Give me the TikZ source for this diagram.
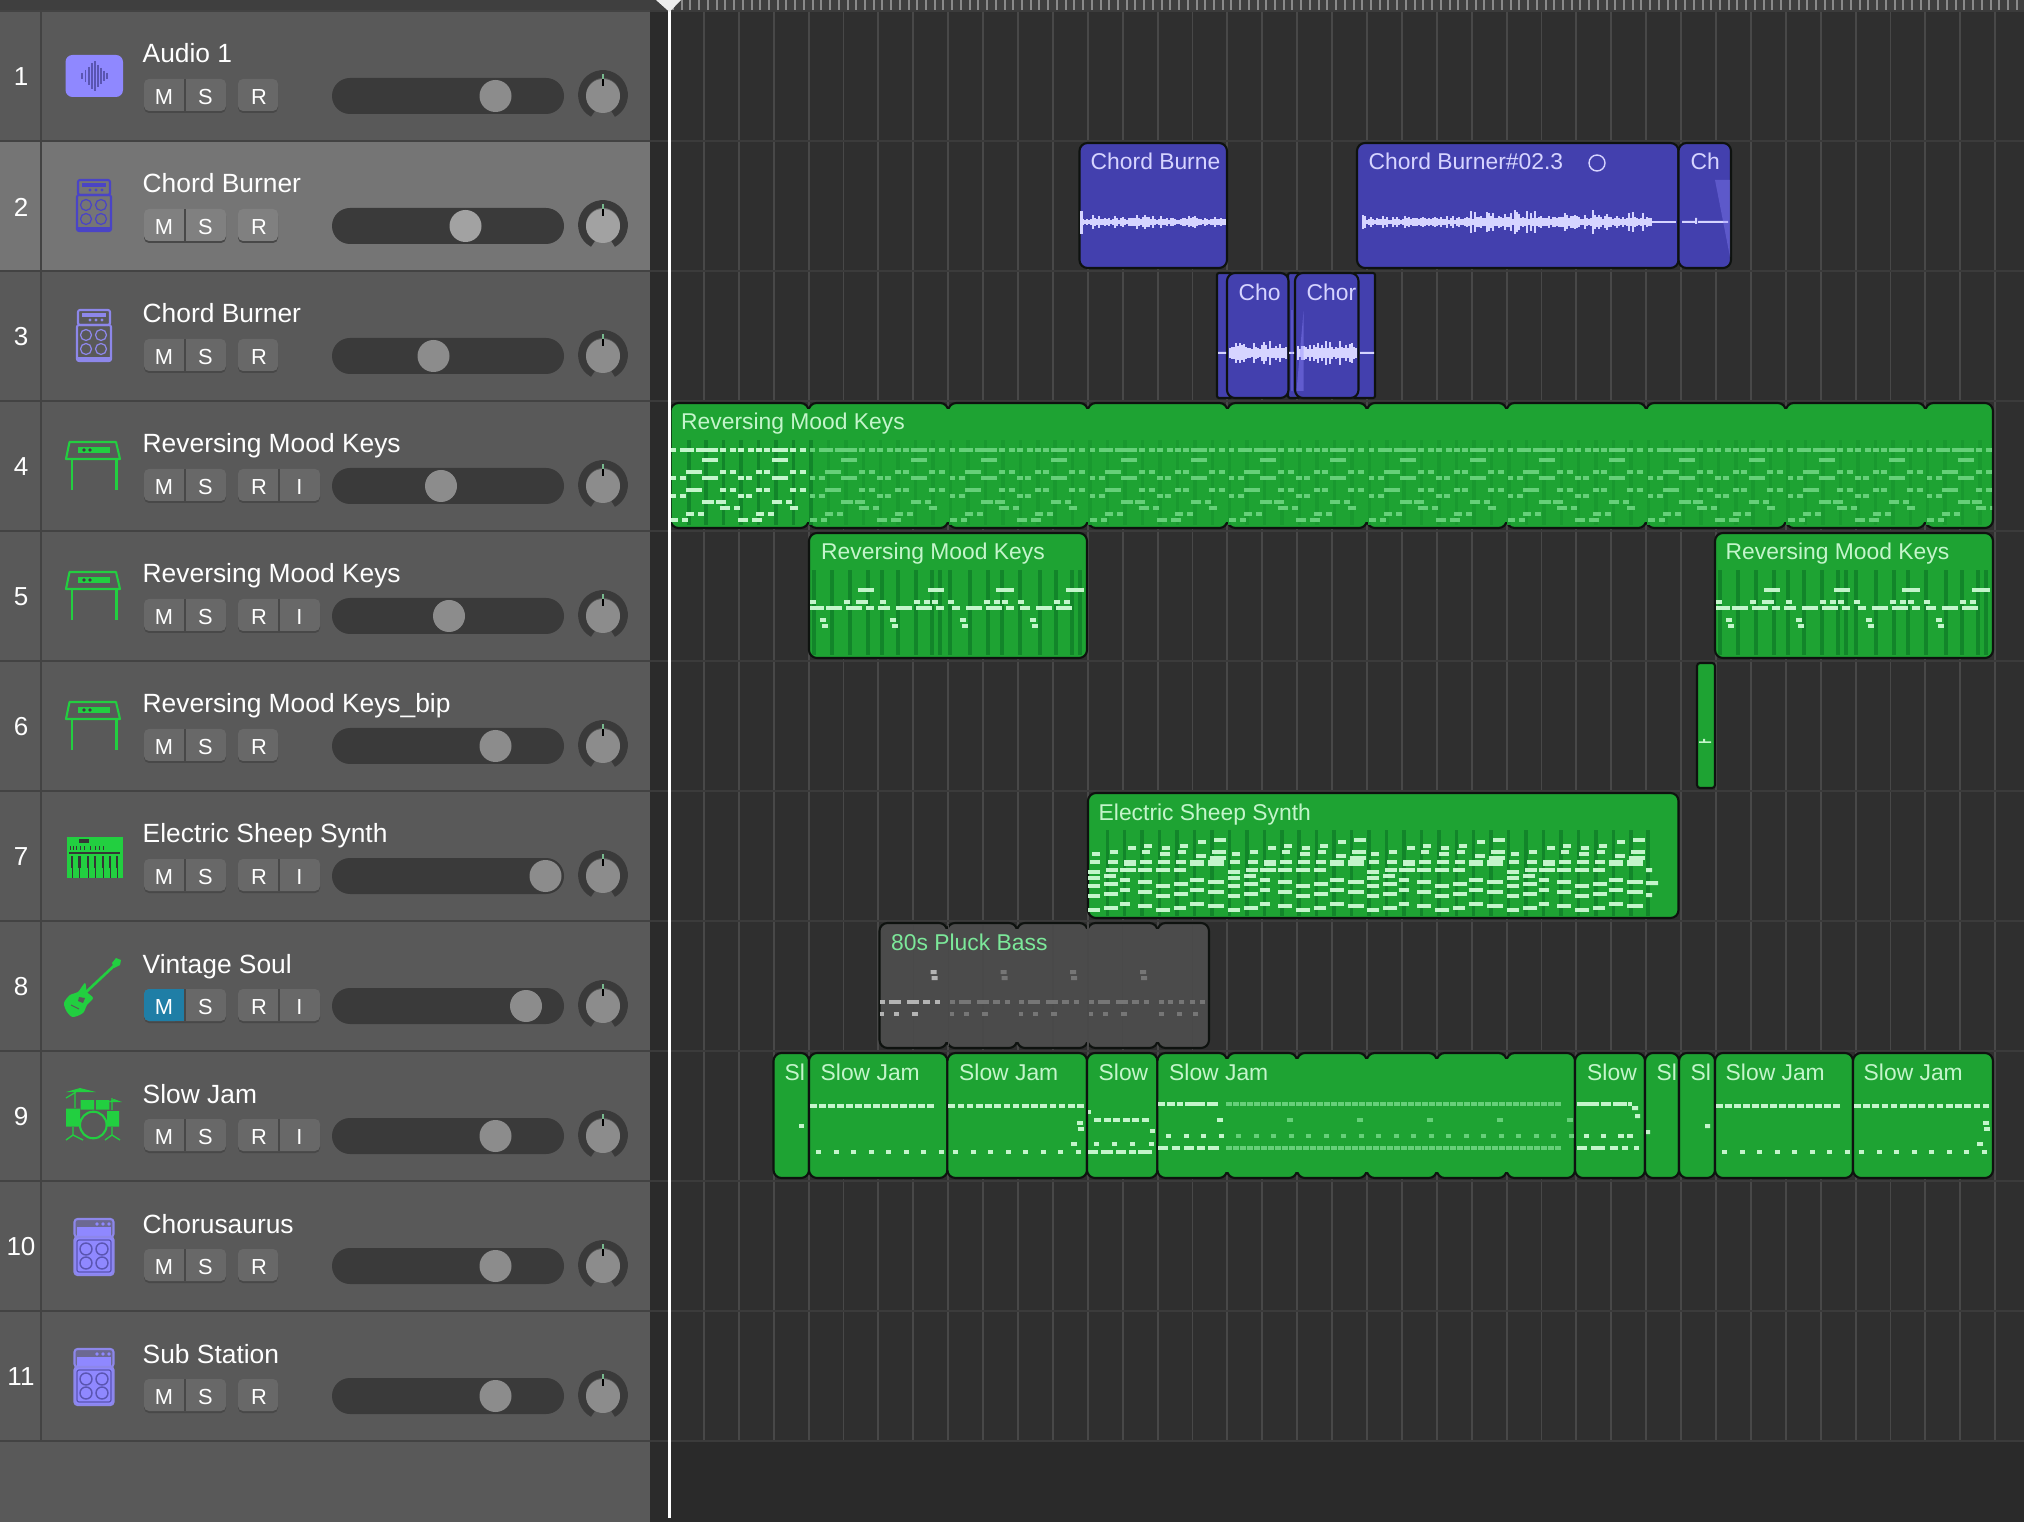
\documentclass[tikz,border=0pt]{standalone}
\usepackage{fontspec}
\usetikzlibrary{calc}
\setmainfont{Liberation Sans}
\definecolor{sidebar}{HTML}{595959}
\definecolor{sidesel}{HTML}{757575}
\definecolor{sideline}{HTML}{434343}
\definecolor{gutter}{HTML}{2B2B2B}
\definecolor{arrange}{HTML}{2F2F2F}
\definecolor{arrangeend}{HTML}{2A2A2A}
\definecolor{gridline}{HTML}{484848}
\definecolor{rowline}{HTML}{3B3B3B}
\definecolor{topbar}{HTML}{3F3F3F}
\definecolor{tick}{HTML}{8A8A8A}
\definecolor{track}{HTML}{3A3A3A}
\definecolor{btnface}{HTML}{686868}
\definecolor{btnsel}{HTML}{808080}
\definecolor{btnshade}{HTML}{484848}
\definecolor{mutecol}{HTML}{1F7EA6}
\definecolor{knobcol}{HTML}{8C8C8C}
\definecolor{knobsel}{HTML}{A2A2A2}
\definecolor{panmark}{HTML}{78B88E}
\definecolor{violet}{HTML}{8F88FF}
\definecolor{violetline}{HTML}{8D87EA}
\definecolor{violetdark}{HTML}{4A44C6}
\definecolor{violetin}{HTML}{5A55B2}
\definecolor{icongreen}{HTML}{22CF40}
\definecolor{midigreen}{HTML}{1EA333}
\definecolor{stripeA}{HTML}{12852A}
\definecolor{stripeB}{HTML}{19992F}
\definecolor{noteA}{HTML}{C4F5CB}
\definecolor{noteB}{HTML}{66D079}
\definecolor{audioblue}{HTML}{4340AE}
\definecolor{wavecol}{HTML}{D6D4FF}
\definecolor{regedge}{HTML}{0E120F}
\definecolor{mutedreg}{HTML}{4B4B4B}
\definecolor{mutedtxt}{HTML}{7CE89A}
\definecolor{greynoteA}{HTML}{B4B4B4}
\definecolor{greynoteB}{HTML}{767676}
\tikzset{
  region/.style={draw=regedge, line width=0.6pt, rounded corners=0.08cm},
  midireg/.style={region, fill=midigreen},
  audioreg/.style={region, fill=audioblue},
  greyreg/.style={region, fill=mutedreg},
  midiname/.style={anchor=base west, inner sep=0pt, text=noteA, font=\fontsize{6.5}{8}\selectfont},
  audioname/.style={anchor=base west, inner sep=0pt, text=wavecol, font=\fontsize{6.5}{8}\selectfont},
  trackname/.style={anchor=base west, inner sep=0pt, text=white, font=\fontsize{7.5}{9}\selectfont},
  tracknum/.style={inner sep=0pt, text=white, font=\fontsize{7.4}{9}\selectfont},
  btntext/.style={inner sep=0pt, text=white, font=\fontsize{6.2}{8}\selectfont},
  iconline/.style={line width=0.6pt, line join=round},
}
% one bar of the keys part, #1 start of bar, #2 colour
\newcommand\keysbar[2]{
  \foreach \ny/\na/\nb in {448/0/5,448/9/23,448/25/47,448/49/55,448/59/65,448/67/73,448/77/83,448/85/91,448/93/99,448/101/117,448/119/125,448/129/135,
    458/31/47,458/101/117,
    470/15/31,470/49/55,470/59/65,470/85/91,470/93/99,470/119/125,470/129/135,
    476/0/5,476/9/15,476/31/47,476/67/73,476/75/81,476/101/117,
    488/15/31,488/49/55,488/59/65,488/85/91,488/93/99,488/119/125,488/129/135,
    494/0/5,494/9/15,494/67/73,494/75/81,
    500/31/43,500/45/55,500/101/111,500/115/121,
    506/49/59,506/63/69,506/119/127,
    512/15/23,512/27/33,512/85/93,512/97/103,
    518/0/7,518/11/17,518/67/77,518/81/91}
    \fill[#2] (#1+\na,\ny) rectangle (#1+\nb,\ny+4);
}
% the short keys part on track 5, #1 shift
\newcommand\keyspart[1]{
  \foreach \sx in {3,21,39,57,71,87,105,121,129,139,159,177,191,209,229,245,261,269}
    \fill[stripeA] (#1+809+\sx,570) rectangle +(3.5,85);
  \foreach \ny/\na/\nb in {588/49/65,588/119/135,588/187/205,588/257/275,
    600/1/7,600/35/41,600/47/59,600/71/77,600/105/111,600/115/121,600/123/129,600/139/145,600/175/181,600/185/191,600/193/199,600/209/215,600/245/251,600/255/261,
    606/1/15,606/17/33,606/37/53,606/57/65,606/69/81,606/87/103,606/107/123,606/127/135,606/143/151,606/157/173,606/177/193,606/197/205,606/211/221,606/227/243,606/247/263,
    618/11/17,618/81/87,618/151/157,618/221/227,
    624/13/19,624/83/89,624/153/159,624/223/229}
    \fill[noteA] (#1+809+\na,\ny) rectangle (#1+809+\nb,\ny+4);
}
% one bar of the synth part
\newcommand\synthbar[1]{
  \foreach \ny/\na/\nb in {838/126/138,840/110/118,844/56/64,844/92/100,846/40/48,846/74/82,
    850/22/30,850/54/62,850/90/98,850/124/138,852/4/12,852/72/82,854/108/118,856/122/138,
    860/2/12,860/20/30,860/36/48,860/52/64,860/70/82,860/88/98,860/102/116,860/120/136,
    862/36/48,862/102/116,862/120/136,
    868/18/30,868/32/48,868/50/64,868/68/82,868/86/98,870/0/12,874/16/28,876/0/12,
    878/32/42,878/102/116,880/50/64,880/120/136,882/16/30,882/86/100,884/0/12,884/68/82,
    888/32/42,888/102/116,890/50/64,890/120/136,892/16/30,892/86/100,894/0/12,894/68/82,
    902/32/42,902/102/116,904/50/64,904/120/136,906/16/30,906/86/98,908/0/12,908/68/82}
    \fill[noteA] (#1+\na,\ny) rectangle (#1+\nb,\ny+4);
}
% drum parts, #1 start of part
\newcommand\jamfirst[1]{
  \foreach \k in {0,...,13} \fill[noteA] (#1+1+9*\k,1104) rectangle +(6.5,4);
  \foreach \k in {0,...,7} \fill[noteA] (#1+7+17.5*\k,1150) rectangle +(5,4);
}
\newcommand\jamsecond[1]{
  \foreach \k in {0,...,14} \fill[noteA] (#1+1+9.2*\k,1104) rectangle +(6.5,4);
  \foreach \k in {0,...,7} \fill[noteA] (#1+6+17.5*\k,1150) rectangle +(5,4);
  \foreach \dx/\ny in {130/1121,131/1127,124/1142} \fill[noteA] (#1+\dx,\ny) rectangle +(6,4);
}
\newcommand\wavebar[4]{
  \foreach \x in {#1,#3,...,#2}{
    \pgfmathsetmacro\hh{#4*(0.25+0.75*rnd*rnd)}
    \fill[wavecol] (\x,\wy-\hh) rectangle (\x+1.6,\wy+\hh);
  }
}
\newcommand\ampicon[2]{
  \draw[#2, iconline, rounded corners=0.02cm] (78,#1+39) rectangle (110,#1+54);
  \fill[#2] (82,#1+42) rectangle (106,#1+46);
  \foreach \dx in {90,96,102} \fill[#2] (\dx,#1+49) circle [radius=1.6];
  \draw[#2, iconline, rounded corners=0.02cm] (77,#1+54) rectangle (111,#1+90);
  \fill[#2] (77,#1+86) rectangle (111,#1+90);
  \foreach \dx in {86,101} \foreach \dy in {64,78}
    \draw[#2, line width=0.35pt] (\dx,#1+\dy) circle [radius=5.5];
}
\newcommand\bigampicon[1]{
  \draw[violetline, fill=violet!35!sidebar, iconline, rounded corners=0.03cm] (74.5,#1+38) rectangle (113.5,#1+56);
  \fill[violet] (77,#1+46) rectangle (111,#1+55);
  \foreach \dx in {97,103,109} \fill[violet] (\dx,#1+43) circle [radius=1.8];
  \draw[violetline, fill=violet, iconline, rounded corners=0.03cm] (74.5,#1+56) rectangle (113.5,#1+94);
  \draw[violetin, line width=0.35pt, rounded corners=0.02cm] (77,#1+59) rectangle (111,#1+91);
  \foreach \dx in {86,102} \foreach \dy in {68,82}
    \draw[violetin, line width=0.4pt] (\dx,#1+\dy) circle [radius=6];
}
\newcommand\keysicon[1]{
  \draw[icongreen, iconline] (69.5,#1+41) -- (116,#1+41) -- (120,#1+58) -- (66,#1+58) -- cycle;
  \draw[icongreen, iconline] (72,#1+58) -- (72,#1+89) (116.5,#1+58) -- (116.5,#1+89);
  \fill[icongreen] (78,#1+46) rectangle (110,#1+52);
  \foreach \dx in {84,90} \fill[sidebar!70!black] (\dx,#1+49) circle [radius=1.8];
}
\begin{document}
\begin{tikzpicture}[x=0.01cm, y=-0.01cm]
	\useasboundingbox (0,0) rectangle (2024,1522);
	\clip (0,0) rectangle (2024,1522);
	\pgfmathsetseed{2024}
	% backgrounds
	\fill[sidebar] (0,0) rectangle (650,1522);
	\fill[gutter] (650,0) rectangle (671,1522);
	\fill[arrange] (671,0) rectangle (2024,1441);
	\fill[arrangeend] (671,1441) rectangle (2024,1522);
	\fill[sidesel] (0,141) rectangle (650,271);
	\fill[topbar] (0,0) rectangle (2024,12);
	\foreach \k in {0,...,155} \fill[tick] (672+8.725*\k,0) rectangle +(2,10);
	\foreach \k in {1,...,38} \draw[gridline, line width=0.55pt] (669+34.9*\k,12) -- (669+34.9*\k,1441);
	\foreach \k in {0,...,11} {
		\pgfmathtruncatemacro\T{11+130*\k}
		\draw[sideline, line width=0.6pt] (0,\T) -- (650,\T);
		\draw[rowline, line width=0.6pt] (650,\T) -- (2024,\T);
	}
	\draw[sideline, line width=0.5pt] (41,12) -- (41,1441);
	% the tracks
	\foreach \n/\nm/\kx/\hasI in {1/Audio 1/495.5/0,2/Chord Burner/465.5/0,3/Chord Burner/433.5/0,4/Reversing Mood Keys/441/1,5/Reversing Mood Keys/449/1,6/Reversing Mood Keys\_bip/495.5/0,7/Electric Sheep Synth/545.5/1,8/Vintage Soul/526/1,9/Slow Jam/495.5/1,10/Chorusaurus/495.5/0,11/Sub Station/495.5/0} {
		\pgfmathtruncatemacro\T{11+130*(\n-1)}
		\ifnum\n=2 \def\btncol{btnsel}\def\knb{knobsel}\else \def\btncol{btnface}\def\knb{knobcol}\fi
		\node[tracknum] (num\n) at (21,\T+66) {\n};
		\node[trackname] (name\n) at (142,\T+52) {\nm};
		% mute and solo
		\fill[btnshade, rounded corners=0.05cm] (144,\T+70) rectangle (226,\T+102);
		\fill[\btncol, rounded corners=0.05cm] (144,\T+68) rectangle (226,\T+100);
		\ifnum\n=8
			\fill[mutecol, rounded corners=0.05cm] (144,\T+68) rectangle (180,\T+100);
			\fill[mutecol] (170,\T+68) rectangle (185,\T+100);
		\fi
		\draw[btnshade, line width=0.3pt] (185,\T+68) -- (185,\T+100);
		\node[btntext] (mute\n) at (164,\T+86) {M};
		\node[btntext] (solo\n) at (205.5,\T+86) {S};
		% record and input
		\ifnum\hasI=1
			\fill[btnshade, rounded corners=0.05cm] (238,\T+70) rectangle (320,\T+102);
			\fill[\btncol, rounded corners=0.05cm] (238,\T+68) rectangle (320,\T+100);
			\draw[btnshade, line width=0.3pt] (279,\T+68) -- (279,\T+100);
			\node[btntext] (input\n) at (299.5,\T+86) {I};
		\else
			\fill[btnshade, rounded corners=0.05cm] (238,\T+70) rectangle (278,\T+102);
			\fill[\btncol, rounded corners=0.05cm] (238,\T+68) rectangle (278,\T+100);
		\fi
		\node[btntext] (rec\n) at (259,\T+86) {R};
		% volume and pan
		\fill[track, rounded corners=0.18cm] (332,\T+67) rectangle (564,\T+103);
		\fill[\knb] (\kx,\T+85) circle [radius=16];
		\draw[track, line width=2.2pt] ($(603,\T+84)+(118:21)$) arc [start angle=118, end angle=422, radius=21];
		\fill[\knb] (603,\T+85) circle [radius=17];
		\draw[panmark, line width=0.4pt] (603,\T+63) -- (603,\T+68);
		\draw[black, line width=0.4pt] (603,\T+68) -- (603,\T+75);
	}
	% icons
	\fill[violet, rounded corners=0.07cm] (65.5,55) rectangle (123,97);
	\foreach \dx/\hh in {82/3,85.5/6,89/9,92/13,95/15,98/11,101/8,104/5,107/3}
		\draw[violetin, line width=0.5pt] (\dx,76-\hh) -- (\dx,76+\hh);
	\ampicon{141}{violetdark}
	\ampicon{271}{violetline}
	\keysicon{401}
	\keysicon{531}
	\keysicon{661}
	\fill[icongreen] (66.5,837) rectangle (122.5,878);
	\fill[sidebar!60!black] (79,839) rectangle (89,843);
	\foreach \dx in {70,73,76,80,84,90,95,99,103} \fill[sidebar!60!black] (\dx,846) rectangle +(1.2,4);
	\draw[sidebar!60!black, line width=0.3pt] (69,853) -- (120,853);
	\foreach \dx in {72,79.5,88,95,103,110,117} {
		\fill[sidebar!60!black] (\dx-1.4,856) rectangle (\dx+1.4,868);
		\draw[sidebar!60!black, line width=0.2pt] (\dx,868) -- (\dx,878);
	}
	% bass
	\draw[icongreen, line width=0.75pt] (85,993) -- (116,964);
	\fill[icongreen] (112,963) -- (116,958) -- (121,960) -- (120,965) -- (114,968) -- cycle;
	\fill[icongreen] plot[smooth cycle] coordinates {(64,1003) (70,995) (78,992) (85,983) (87,992) (93,998) (87,1005) (83,1013) (73,1017) (67,1012)};
	\fill[sidebar] (79,997) -- (85,998) -- (83,1003) -- (78,1001) -- cycle;
	\draw[sidebar, line width=0.3pt] (71,1005) -- (79,1009);
	% drums
	\draw[icongreen, line width=0.6pt] (93.3,1125) circle [radius=13.3];
	\fill[icongreen] (80.7,1100) rectangle (94,1109.5) (96,1100) rectangle (109.3,1109.5);
	\fill[icongreen] (66,1108.5) rectangle (80,1126.5) (107,1111) rectangle (119,1126.5);
	\fill[icongreen] (66,1092) -- (80,1088) -- (96,1092) -- cycle;
	\fill[icongreen] (108,1102) -- (114,1099) -- (122,1102) -- cycle;
	\draw[icongreen, line width=0.35pt] (75,1092) -- (75,1108) (112,1098) -- (112,1110) (66,1098) -- (76,1092);
	\draw[icongreen, line width=0.4pt] (73,1135) -- (66,1140) (73,1135) -- (83,1140) (112,1135) -- (105,1140) (112,1135) -- (120,1140) (73,1127) -- (73,1135) (112,1127) -- (112,1135);
	\bigampicon{1181}
	\bigampicon{1311}
	% row 2
	\draw[audioreg] (1079.5,143) rectangle (1227,268);
	\draw[audioreg] (1357,143) rectangle (1678.5,268);
	\draw[audioreg] (1678.5,143) rectangle (1731,268);
	\def\wy{222}
	\wavebar{1082}{1224}{1084}{9}
	\fill[wavecol] (1080,211) rectangle (1083,234);
	\wavebar{1362}{1470}{1364}{9}
	\wavebar{1470}{1650}{1472}{13}
	\fill[wavecol] (1650,221) rectangle (1676,223);
	\fill[wavecol] (1682,221) rectangle (1697,223) (1698,221) rectangle (1728,223) (1695,218) rectangle (1697,224);
	\fill[violet, opacity=0.35] (1715,180) -- (1730,180) -- (1730,257) -- cycle;
	\draw[wavecol, line width=0.4pt] (1597,163) circle [radius=8];
	\node[audioname] (rega) at (1090,170) {Chord Burne};
	\node[audioname] (regb) at (1368,170) {Chord Burner\#02.3};
	\node[audioname] (regc) at (1690,170) {Ch};
	% row 3
	\draw[audioreg, rounded corners=0.02cm] (1217,273) rectangle (1232,398);
	\draw[audioreg, rounded corners=0.02cm] (1288,273) rectangle (1300,398);
	\draw[audioreg, rounded corners=0.02cm] (1353,273) rectangle (1375,398);
	\draw[audioreg] (1227,273) rectangle (1288.5,398);
	\draw[audioreg] (1295,273) rectangle (1358.5,398);
	\def\wy{353}
	\wavebar{1229}{1285}{1231}{16}
	\wavebar{1297}{1355}{1299}{16}
	\fill[wavecol] (1218,352) rectangle (1226,354) (1289,352) rectangle (1294,354) (1360,352) rectangle (1374,354);
	\fill[violet, opacity=0.4] (1303.5,311.5) -- (1303.5,391) -- (1296.5,391) -- cycle;
	\fill[violet, opacity=0.3] (1291,310) rectangle (1293,391);
	\node[audioname] (regd) at (1238,301) {Cho};
	\node[audioname] (rege) at (1306,301) {Chor};
	% row 4
	\foreach \s/\e in {670.5/808.6,808.6/948.2,948.2/1087.8,1087.8/1227.4,1227.4/1367,1367/1506.6,1506.6/1646.2,1646.2/1785.8,1785.8/1925.4,1925.4/1993}
		\draw[midireg] (\s,403) rectangle (\e,528);
	\foreach \e in {808.6,948.2,1087.8,1227.4,1367,1506.6,1646.2,1785.8,1925.4}
		\fill[midigreen] (\e-2,409) rectangle (\e+2,522);
	\begin{scope}
		\clip (671,436) rectangle (1992,526);
		\foreach \k in {0,...,7} \fill[stripeA] (687+17.45*\k,440) rectangle +(3.5,85);
		\foreach \k in {8,...,75} \fill[stripeB] (687+17.45*\k,440) rectangle +(3.5,85);
		\foreach \b in {1,...,9} {\keysbar{670.7+139.6*\b}{noteB}}
		\keysbar{670.7}{noteA}
	\end{scope}
	\node[midiname] (regf) at (680.5,430) {Reversing Mood Keys};
	% row 5
	\draw[midireg] (809,533) rectangle (1087,658);
	\draw[midireg] (1715,533) rectangle (1993,658);
	\keyspart{0}
	\keyspart{906}
	\node[midiname] (regg) at (820.5,560) {Reversing Mood Keys};
	\node[midiname] (regh) at (1725,560) {Reversing Mood Keys};
	% row 6
	\draw[midireg, rounded corners=0.03cm] (1697,663) rectangle (1715,788);
	\fill[noteA] (1699,741.5) rectangle (1711,743) (1703,739) rectangle (1705,743);
	% row 7
	\draw[midireg] (1088,793) rectangle (1678.5,918);
	\foreach \k in {0,...,31} \fill[stripeA] (1105.5+17.45*\k,830) rectangle +(3.5,86);
	\foreach \b in {0,...,3} {\synthbar{1088+139.6*\b}}
	\fill[noteA] (1646,881) rectangle (1658,885) (1646,868) rectangle (1652,872) (1646,893) rectangle (1652,897);
	\node[midiname] (regi) at (1098,820.5) {Electric Sheep Synth};
	% row 8
	\foreach \s/\e in {879.5/947,947/1017,1017/1087.5,1087.5/1157.5,1157.5/1209}
		\draw[greyreg] (\s,923) rectangle (\e,1048);
	\foreach \e in {947,1017,1087.5,1157.5}
		\fill[mutedreg] (\e-2,929) rectangle (\e+2,1042);
	\foreach \k in {7,8,9,11,12,13,15,16,17,18,19}
		\draw[gridline!70!mutedreg, line width=0.4pt] (669+34.9*\k,925) -- (669+34.9*\k,1046);
	\foreach \b/\col in {879.5/greynoteA,949.5/greynoteB,1019/greynoteB,1089/greynoteB} {
		\foreach \dx/\wd in {0/5,9/12,27/12,43/7,55/5}
			\fill[\col] (\b+\dx,1000) rectangle +(\wd,4);
		\foreach \dx/\wd in {0/4,14/5,32/6}
			\fill[\col] (\b+\dx,1012) rectangle +(\wd,4);
		\fill[\col] (\b+51,970) rectangle +(6,4) (\b+52,976) rectangle +(6,4);
	}
	\foreach \dx/\wd in {0/5,9/5,20/5,31/5,41/5} \fill[greynoteB] (1159+\dx,1000) rectangle +(\wd,4);
	\foreach \dx in {0,18,34} \fill[greynoteB] (1159+\dx,1012) rectangle +(5,4);
	\node[anchor=base west, inner sep=0pt, text=mutedtxt, font=\fontsize{6.5}{8}\selectfont] (regj) at (890.5,950.5) {80s Pluck Bass};
	% row 9
	\foreach \s/\e in {773.5/809,809/947.4,947.4/1087,1087/1157.4,1157.4/1227,1227/1297,1297/1366.7,1366.7/1436.8,1436.8/1506.6,1506.6/1575,1575/1645,1645/1679,1679/1715,1715/1853,1853/1993}
		\draw[midireg] (\s,1053) rectangle (\e,1178);
	\foreach \e in {1227,1297,1366.7,1436.8,1506.6}
		\fill[midigreen] (\e-2,1059) rectangle (\e+2,1172);
	\fill[noteA] (799,1124) rectangle +(5,4);
	\jamfirst{809}
	\jamsecond{947.4}
	\fill[noteA] (1088,1110) rectangle +(3,4);
	\foreach \k in {0,...,5} \fill[noteA] (1094+9.5*\k,1118) rectangle +(7,4);
	\fill[noteA] (1150,1129) rectangle +(5,4);
	\foreach \dx in {1094,1112,1130,1149} \fill[noteA] (\dx,1142) rectangle +(5,4);
	\foreach \dx/\wd in {1088/10,1101/12,1116/10,1129/7,1138/14} \fill[noteA] (\dx,1150) rectangle +(\wd,4);
	\foreach \dx/\wd in {1158/7,1167/8,1177/6,1185/20,1207/11} \fill[noteA] (\dx,1102) rectangle +(\wd,4);
	\foreach \dx/\wd in {1158/10,1172/8,1184/10,1197/8,1208/11} \fill[noteA] (\dx,1146) rectangle +(\wd,4);
	\foreach \k in {0,...,3} \fill[noteA] (1166+17.5*\k,1134) rectangle +(5,4);
	\fill[noteA] (1217,1118) rectangle +(6,4);
	\foreach \k in {0,...,47} {
		\fill[noteB] (1226+7*\k,1146) rectangle +(5.5,4);
		\fill[noteB] (1226+7*\k,1102) rectangle +(5.5,4);
	}
	\foreach \k in {4,...,23} \fill[noteB] (1166+17.5*\k,1134) rectangle +(5,4);
	\foreach \dx in {1287,1357,1427,1497,1567} \fill[noteB] (\dx,1118) rectangle +(6,4);
	\foreach \dx/\wd in {1577/22,1601/10,1613/14,1628/4} \fill[noteA] (\dx,1102) rectangle +(\wd,4);
	\fill[noteA] (1632,1106) rectangle +(6,4) (1635,1114) rectangle +(5,4);
	\foreach \dx/\wd in {1584/5,1601/5,1618/6,1627/6} \fill[noteA] (\dx,1134) rectangle +(\wd,4);
	\foreach \dx/\wd in {1577/10,1591/14,1610/8,1622/6,1634/5} \fill[noteA] (\dx,1146) rectangle +(\wd,4);
	\fill[noteA] (1646,1130) rectangle +(4,4) (1705,1124) rectangle +(5,4);
	\jamfirst{1715}
	\jamsecond{1853}
	\node[midiname] (regk) at (784,1080) {Sl};
	\node[midiname] (regl) at (820,1080) {Slow Jam};
	\node[midiname] (regm) at (958.5,1080) {Slow Jam};
	\node[midiname] (regn) at (1098,1080) {Slow};
	\node[midiname] (rego) at (1168.5,1080) {Slow Jam};
	\node[midiname] (regp) at (1586.5,1080) {Slow};
	\node[midiname] (regq) at (1656,1080) {Sl};
	\node[midiname] (regr) at (1690,1080) {Sl};
	\node[midiname] (regs) at (1725,1080) {Slow Jam};
	\node[midiname] (regt) at (1863,1080) {Slow Jam};
	% playhead
	\draw[white, line width=0.6pt] (669.5,0) -- (669.5,1518);
	\fill[white!85!gray] (656,0) -- (681,0) -- (669.5,12) -- cycle;
\end{tikzpicture}
\end{document}
